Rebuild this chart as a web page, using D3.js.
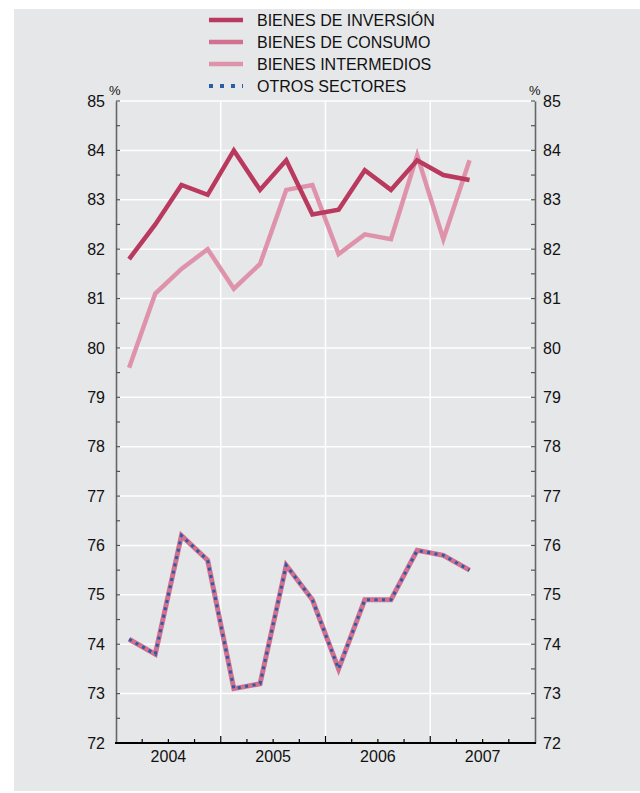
<!DOCTYPE html>
<html>
<head>
<meta charset="utf-8">
<script src="https://cdn.jsdelivr.net/npm/d3@7"></script>
<style>
  body{margin:0;background:#fff;}
  text{font-family:"Liberation Sans",Arial,Helvetica,sans-serif;fill:#111;}
</style>
</head>
<body>
<svg id="chart" width="640" height="793"></svg>
<script>
'use strict';

// quarters 2004-I .. 2007-II
var periods=['2004-1','2004-2','2004-3','2004-4','2005-1','2005-2','2005-3','2005-4',
             '2006-1','2006-2','2006-3','2006-4','2007-1','2007-2'];
var inversion=[81.8,82.5,83.3,83.1,84.0,83.2,83.8,82.7,82.8,83.6,83.2,83.8,83.5,83.4];
var intermedios=[79.6,81.1,81.6,82.0,81.2,81.7,83.2,83.3,81.9,82.3,82.2,83.9,82.2,83.8];
var consumo=[74.1,73.8,76.2,75.7,73.1,73.2,75.6,74.9,73.5,74.9,74.9,75.9,75.8,75.5];
var otros=[74.1,73.8,76.2,75.7,73.1,73.2,75.6,74.9,73.5,74.9,74.9,75.9,75.8,75.5];
var years=[2004,2005,2006,2007];
var yTicks=d3.range(72,86);
var legendNames=['BIENES DE INVERSIÓN','BIENES DE CONSUMO','BIENES INTERMEDIOS','OTROS SECTORES'];

var svg=d3.select('#chart');

svg.append('rect')
    .attr('x',14).attr('y',9)
    .attr('width',626).attr('height',782)
    .attr('fill','#e6e7e9');

var x=d3.scaleLinear().domain([2004,2008]).range([116,535]);
var y=d3.scaleLinear().domain([72,85]).range([743,101]);

var px=function(p){
    var s=p.split('-');
    return x(+s[0]+(+s[1]-0.5)/4);
};

// grid
svg.append('g').selectAll('line')
    .data(yTicks.slice(1))
    .join('line')
    .attr('x1',x(2004)).attr('x2',x(2008))
    .attr('y1',function(d){return y(d);}).attr('y2',function(d){return y(d);})
    .attr('stroke','#fff').attr('stroke-width',1.5);

svg.append('g').selectAll('line')
    .data([2005,2006,2007])
    .join('line')
    .attr('x1',function(d){return x(d);}).attr('x2',function(d){return x(d);})
    .attr('y1',y(85)).attr('y2',y(72))
    .attr('stroke','#fff').attr('stroke-width',1.5);

// y axes
var yMinor=d3.range(72.5,85,1);
var left=d3.axisLeft(y).tickValues(yTicks).tickSize(0).tickPadding(11);
var gl=svg.append('g').attr('transform','translate('+x(2004)+',0)').call(left);
var right=d3.axisRight(y).tickValues(yTicks).tickSize(0).tickPadding(8);
var gr=svg.append('g').attr('transform','translate('+x(2008)+',0)').call(right);
[gl,gr].forEach(function(g,i){
    g.select('.domain').attr('stroke','#666').attr('stroke-width',1.6);
    g.selectAll('text').attr('font-size',16).attr('fill','#111')
        .attr('font-family','"Liberation Sans",Arial,sans-serif');
    var dir=i===0?1:-1;
    g.selectAll('line.mt')
        .data(yTicks.concat(yMinor))
        .join('line')
        .attr('class','mt')
        .attr('x1',0).attr('x2',dir*4)
        .attr('y1',function(d){return y(d);}).attr('y2',function(d){return y(d);})
        .attr('stroke','#555').attr('stroke-width',1.2);
});

svg.append('text').attr('x',x(2004)-7).attr('y',y(85)-6)
    .attr('font-size',13).text('%');
svg.append('text').attr('x',x(2008)-6).attr('y',y(85)-6)
    .attr('font-size',13).text('%');

// x axis
var gx=svg.append('g');
gx.append('line')
    .attr('x1',x(2004)-1).attr('x2',x(2008)+1)
    .attr('y1',y(72)).attr('y2',y(72))
    .attr('stroke','#000').attr('stroke-width',2.2);
gx.selectAll('line.q')
    .data(d3.range(2004.25,2008,0.25))
    .join('line')
    .attr('class','q')
    .attr('x1',function(d){return x(d);}).attr('x2',function(d){return x(d);})
    .attr('y1',y(72))
    .attr('y2',function(d){return d%1===0?y(72)-7:y(72)-4;})
    .attr('stroke','#000').attr('stroke-width',1.2);
gx.selectAll('text')
    .data(years)
    .join('text')
    .attr('x',function(d){return x(d+0.5);})
    .attr('y',y(72)+19)
    .attr('text-anchor','middle')
    .attr('font-size',16)
    .text(function(d){return d;});

// lines
var line=d3.line()
    .x(function(d,i){return px(periods[i]);})
    .y(function(d){return y(d);});

var series=[
    {v:intermedios,c:'#df93ab',w:4.5,dash:null},
    {v:inversion,c:'#b9395f',w:4.5,dash:null},
    {v:consumo,c:'#d2708f',w:5,dash:null},
    {v:otros,c:'#2a5ca8',w:3,dash:'3,4.5'}
];
svg.append('g').selectAll('path')
    .data(series)
    .join('path')
    .attr('d',function(d){return line(d.v);})
    .attr('fill','none')
    .attr('stroke',function(d){return d.c;})
    .attr('stroke-width',function(d){return d.w;})
    .attr('stroke-linejoin','miter')
    .attr('stroke-dasharray',function(d){return d.dash;});

// legend
var legColors=['#b9395f','#d2708f','#df93ab','#2a5ca8'];
var lg=svg.append('g').selectAll('g')
    .data(legendNames)
    .join('g')
    .attr('transform',function(d,i){return 'translate(209,'+(20+i*22)+')';});
lg.append('line')
    .attr('x1',0).attr('x2',34).attr('y1',0).attr('y2',0)
    .attr('stroke',function(d,i){return legColors[i];})
    .attr('stroke-width',function(d,i){return i===3?4:4.5;})
    .attr('stroke-dasharray',function(d,i){return i===3?'4,7':null;});
lg.append('text')
    .attr('x',48).attr('y',6)
    .attr('font-size',16)
    .text(function(d){return d;});
</script>
</body>
</html>
